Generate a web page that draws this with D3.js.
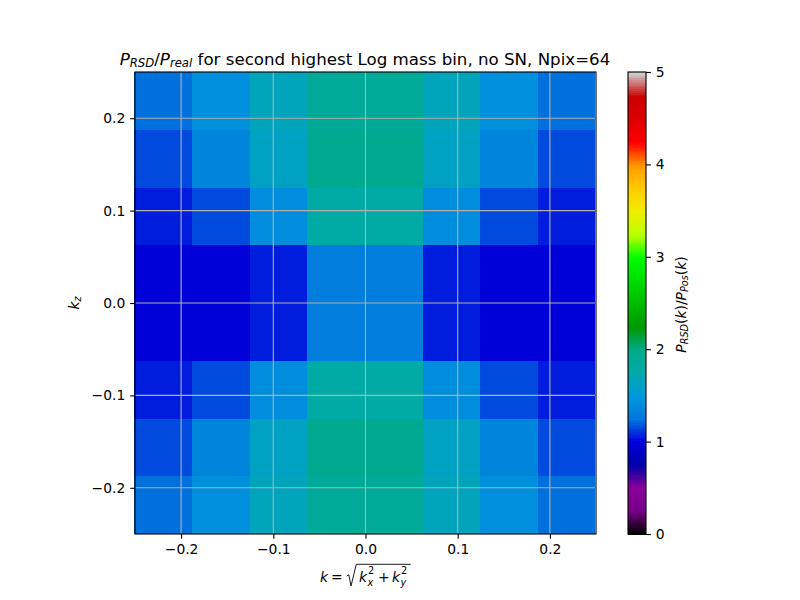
<!DOCTYPE html>
<html><head><meta charset="utf-8">
<script src="https://cdn.jsdelivr.net/npm/d3@7"></script>
<style>html,body{margin:0;padding:0;background:#fff}svg{display:block}text{font-family:"DejaVu Sans";fill:#000}</style>
</head><body><svg id="c" width="800" height="600"></svg>
<script>
const kEdges=[-0.25,-0.1875,-0.125,-0.0625,0,0.0625,0.125,0.1875,0.25];
const kzEdges=[0.25,0.1875,0.125,0.0625,0,-0.0625,-0.125,-0.1875,-0.25];
const ratio=[
[1.245,1.43,1.67,1.875,1.875,1.67,1.43,1.245],
[1.168,1.36,1.64,1.94,1.94,1.64,1.36,1.168],
[1.07,1.168,1.41,1.79,1.79,1.41,1.168,1.07],
[0.985,0.995,1.07,1.30,1.30,1.07,0.995,0.985],
[0.985,0.995,1.07,1.30,1.30,1.07,0.995,0.985],
[1.07,1.168,1.41,1.79,1.79,1.41,1.168,1.07],
[1.168,1.36,1.64,1.94,1.94,1.64,1.36,1.168],
[1.245,1.43,1.67,1.875,1.875,1.67,1.43,1.245]];
const xTicks=[-0.2,-0.1,0,0.1,0.2];
const yTicks=[-0.2,-0.1,0,0.1,0.2];
const cTicks=[0,1,2,3,4,5];
const cmapStops=d3.range(21).map(i=>i*0.05);
const cmapR=[0,.4667,.5333,0,0,0,0,0,0,0,0,0,0,.7333,.9333,1,1,1,.8667,.8,.8];
const cmapG=[0,0,0,0,0,.4667,.6,.6667,.6667,.6,.7333,.8667,1,1,.9333,.8,.6,0,0,0,.8];
const cmapB=[0,.5333,.6,.6667,.8667,.8667,.8667,.6667,.5333,0,0,0,0,0,0,0,0,0,0,0,.8];
const rS=d3.scaleLinear(cmapStops,cmapR),gS=d3.scaleLinear(cmapStops,cmapG),bS=d3.scaleLinear(cmapStops,cmapB);
const norm=d3.scaleLinear([0,5],[0,1]);
const cmap=v=>{const t=Math.min(255,Math.floor(norm(v)*256))/255;
  return d3.rgb(rS(t)*255,gS(t)*255,bS(t)*255).formatHex();};

const svg=d3.select("#c");
const L=135,R=596,T=72,B=534;
const x=d3.scaleLinear([-0.25,0.25],[L,R]);
const xCell=d3.scaleLinear([-0.25,0.25],[L-0.6,R-0.6]);
const y=d3.scaleLinear([-0.25,0.25],[B,T]);
const fmt=d3.format(".1f");
const minus=s=>s.replace("-","\u2212");

// heat cells
ratio.forEach((row,j)=>row.forEach((v,i)=>{
  svg.append("rect").attr("x",xCell(kEdges[i])).attr("y",y(kzEdges[j]))
    .attr("width",xCell(kEdges[i+1])-xCell(kEdges[i])).attr("height",y(kzEdges[j+1])-y(kzEdges[j]))
    .attr("fill",cmap(v)).attr("shape-rendering","crispEdges");
}));
// grid
const grid=svg.append("g").attr("stroke","#b0b0b0").attr("stroke-width",1.11);
xTicks.forEach(t=>grid.append("line").attr("x1",x(t)).attr("x2",x(t)).attr("y1",T).attr("y2",B));
yTicks.forEach(t=>grid.append("line").attr("y1",y(t)).attr("y2",y(t)).attr("x1",L).attr("x2",R));

function styleAxis(g){
  g.selectAll("path,line").attr("stroke","#000").attr("stroke-width",1.11);
  g.selectAll("text").attr("font-size",13.89).attr("font-family","DejaVu Sans").attr("fill","#000");
}
const ax=svg.append("g").attr("transform",`translate(0,${B})`)
  .call(d3.axisBottom(x).tickValues(xTicks).tickFormat(d=>minus(fmt(d))).tickSize(4.86).tickPadding(4.86).tickSizeOuter(0));
styleAxis(ax);ax.select("path").remove();
const ay=svg.append("g").attr("transform",`translate(${L},0)`)
  .call(d3.axisLeft(y).tickValues(yTicks).tickFormat(d=>minus(fmt(d))).tickSize(4.86).tickPadding(4.86).tickSizeOuter(0));
styleAxis(ay);ay.select("path").remove();
svg.append("rect").attr("x",L).attr("y",T).attr("width",R-L).attr("height",B-T)
  .attr("fill","none").attr("stroke","#000").attr("stroke-width",1.11);

// colour bar
const CL=628,CR=646;
const c=d3.scaleLinear([0,5],[B,T]);
d3.range(256).forEach(i=>{
  const v0=i/256*5,v1=(i+1)/256*5;
  svg.append("rect").attr("x",CL).attr("width",CR-CL).attr("y",c(v1)).attr("height",c(v0)-c(v1)+1)
    .attr("fill",cmap((v0+v1)/2)).attr("shape-rendering","crispEdges");
});
const ac=svg.append("g").attr("transform",`translate(${CR},0)`)
  .call(d3.axisRight(c).tickValues(cTicks).tickFormat(d3.format("d")).tickSize(4.86).tickPadding(4.86).tickSizeOuter(0));
styleAxis(ac);ac.select("path").remove();
svg.append("rect").attr("x",CL).attr("y",T).attr("width",CR-CL).attr("height",B-T)
  .attr("fill","none").attr("stroke","#000").attr("stroke-width",1.11);

// math-like text helper
function rich(sel,parts,base){
  parts.forEach(p=>{
    const t=sel.append("tspan").text(p.t).attr("font-size",p.sub?base*0.7:base);
    if(p.i) t.attr("font-style","oblique");
    if(p.sub) t.attr("dy",base*0.15);
    if(p.dy!==undefined) t.attr("dy",p.dy);
  });
}
const sub=base=>base*0.15;
// title
const title=svg.append("text").attr("x",365).attr("y",64.5).attr("text-anchor","middle");
rich(title,[{t:"P",i:1},{t:"RSD",i:1,sub:1},{t:"/",dy:-sub(16.67)},{t:"P",i:1},{t:"real",i:1,sub:1},
  {t:" for second highest Log mass bin, no SN, Npix=64",dy:-sub(16.67)}],16.67);

// y label
const yl=svg.append("text").attr("transform","translate(79,303) rotate(-90)").attr("text-anchor","middle");
rich(yl,[{t:"k",i:1},{t:"z",i:1,sub:1}],13.89);

// colour bar label
const cl=svg.append("text").attr("transform","translate(686,304.5) rotate(-90)").attr("text-anchor","middle");
rich(cl,[{t:"P",i:1},{t:"RSD",i:1,sub:1},{t:"(",dy:-sub(13.89)},{t:"k",i:1},{t:")/"},{t:"P",i:1},{t:"Pos",i:1,sub:1},{t:"(",dy:-sub(13.89)},{t:"k",i:1},{t:")"}],13.89);

// x label
const xl=svg.append("g");
const part=(txt,px,py,fs,it)=>{const t=xl.append("text").attr("x",px).attr("y",py).attr("font-size",fs).text(txt);if(it)t.attr("font-style","oblique");};
part("k",320,582,13.89,1);part("=",331,582,13.89,0);
part("k",359,582,13.89,1);part("2",368,573.5,9.7,0);part("x",367.5,586,9.7,1);
part("+",378,582,13.89,0);
part("k",392,582,13.89,1);part("2",401,573.5,9.7,0);part("y",400.5,586,9.7,1);
xl.append("path").attr("d","M346.7,576 L348.8,574.8 L351,586 L356.3,564.3 L410.7,564.3").attr("fill","none").attr("stroke","#000").attr("stroke-width",0.9);
</script></body></html>
